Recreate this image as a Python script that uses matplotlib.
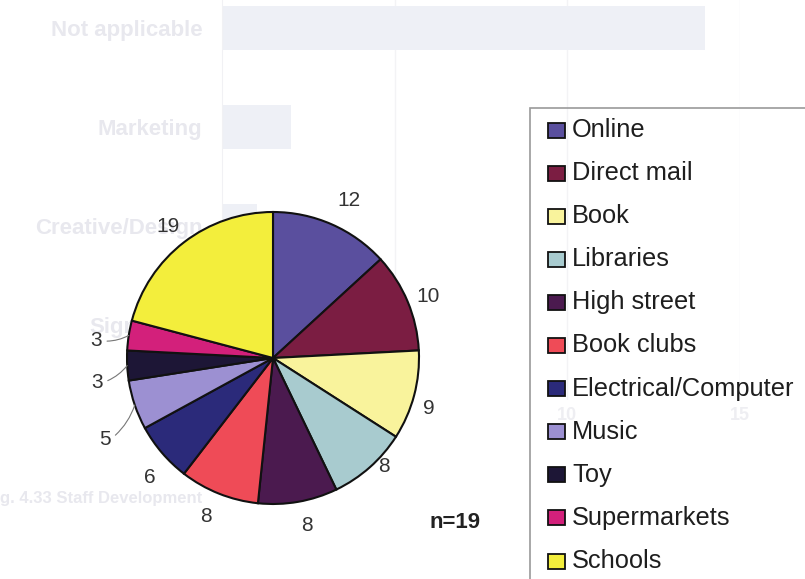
import matplotlib
matplotlib.use("Agg")
import matplotlib.pyplot as plt
from matplotlib.patches import Rectangle
import numpy as np

# Retail channels and number of mentions
channels = ["Online", "Direct mail", "Book", "Libraries", "High street",
            "Book clubs", "Electrical/Computer", "Music", "Toy",
            "Supermarkets", "Schools"]
counts = [12, 10, 9, 8, 8, 8, 6, 5, 3, 3, 19]
colors = ["#5a4f9e", "#7b1d42", "#f9f39c", "#a8cbcf", "#4b1a4f", "#ef4b57",
          "#2b2a7a", "#9c90d2", "#1d1636", "#d3207b", "#f3ee3c"]
sample_note = "n=19"

# Faint bar chart showing through from the facing page
ghost_cats = ["Not applicable", "Marketing", "Creative/Design", "Significant"]
ghost_vals = [14, 2, 1, 1]
ghost_ticks = [5, 10, 15]
ghost_caption = "g. 4.33 Staff Development"

W, H = 805, 579
FONT = "Liberation Sans"
plt.rcParams["font.family"] = [FONT, "DejaVu Sans"]

fig = plt.figure(figsize=(W / 100, H / 100), dpi=100)
fig.patch.set_facecolor("white")


def frac_x(px):
    return px / W


def frac_y(py):
    return 1 - py / H


GHOST_TEXT = "#e8e8ee"

# ---- pie chart / legend layer (drawn first, page underneath shows through) --
ax = fig.add_axes([0, 0, 1, 1])
ax.set_facecolor("none")
cx, cy, R = 273, H - 358, 146
wedges, _ = ax.pie(counts, colors=colors, startangle=90, counterclock=False,
                   center=(cx, cy), radius=R,
                   wedgeprops=dict(edgecolor="#111111", linewidth=1.5))
ax.set_xlim(0, W)
ax.set_ylim(0, H)
ax.set_aspect("equal")
ax.axis("off")

# label placement: (distance in radii, angular shift in degrees)
label_pos = [(1.20, -2), (1.14, -1), (1.12, -3), (1.06, 4), (1.17, 1.5),
             (1.18, -1), (1.18, 3.6), (1.28, 7), (1.22, 5), (1.22, 3.4),
             (1.15, 1)]
leader = [False] * 7 + [True, True, True] + [False]

for w, val, (dist, shift), lead in zip(wedges, counts, label_pos, leader):
    mid = np.deg2rad((w.theta1 + w.theta2) / 2)
    ang = mid + np.deg2rad(shift)
    tx, ty = cx + R * dist * np.cos(ang), cy + R * dist * np.sin(ang)
    if lead:
        ex, ey = cx + R * np.cos(mid), cy + R * np.sin(mid)
        ax.annotate(str(val), xy=(ex, ey), xytext=(tx, ty), fontsize=15,
                    color="#333333", ha="center", va="center",
                    arrowprops=dict(arrowstyle="-", color="#777777", lw=0.8,
                                    shrinkA=2, shrinkB=0, relpos=(1, 0.5),
                                    connectionstyle="arc3,rad=0.15"))
    else:
        ax.text(tx, ty, str(val), fontsize=15, color="#333333",
                ha="center", va="center")

ax.text(455, H - 523, sample_note, fontsize=16, fontweight="bold",
        color="#222222", ha="center", va="center")

# legend box, drawn by hand so it can run off the page edge
lx, ly_top = 530, 108
ax.add_patch(Rectangle((lx, H - 600), 320, 600 - ly_top, facecolor="none",
                       edgecolor="#9a9a9a", lw=1.2, zorder=3))
row0, step = 130, 43.1
for i, (name, col) in enumerate(zip(channels, colors)):
    yc = H - (row0 + i * step)
    ax.add_patch(Rectangle((548, yc - 7.5), 17, 15, facecolor=col,
                           edgecolor="#111111", lw=1.3, zorder=4))
    ax.text(572, yc, name, fontsize=18.3, color="#1e1e1e", ha="left",
            va="center", zorder=5)

# ---- background ghost chart (behind the pie layer) ----------------------
gx0, gx1, gy0, gy1 = 222, 740, 0, 400
ax_bg = fig.add_axes([frac_x(gx0), frac_y(gy1), frac_x(gx1) - frac_x(gx0),
                      frac_y(gy0) - frac_y(gy1)], zorder=-1)
ypos = np.arange(len(ghost_cats))
ax_bg.barh(ypos, ghost_vals, height=0.45, color="#eef0f6", zorder=2)
ax_bg.set_xlim(0, 15)
ax_bg.set_ylim((400 - 28) / 99, -28 / 99)
ax_bg.set_yticks(ypos)
ax_bg.set_yticklabels(ghost_cats, fontsize=16, fontweight="bold", color=GHOST_TEXT)
ax_bg.set_xticks(ghost_ticks)
ax_bg.set_xticklabels([str(t) for t in ghost_ticks], fontsize=13,
                      fontweight="bold", color="#eeeef2")
ax_bg.tick_params(length=0, pad=14)
ax_bg.tick_params(axis="x", pad=5)
ax_bg.grid(axis="x", color="#f3f3f5", lw=1.0, zorder=1)
for s in ["top", "right", "bottom"]:
    ax_bg.spines[s].set_visible(False)
ax_bg.spines["left"].set_color("#f1f1f4")
ax_bg.set_facecolor("none")
fig.text(frac_x(0), frac_y(499), ghost_caption, fontsize=12, fontweight="bold",
         color=GHOST_TEXT, va="center", ha="left", zorder=-1)

fig.savefig("out.png", dpi=100, facecolor="white")
